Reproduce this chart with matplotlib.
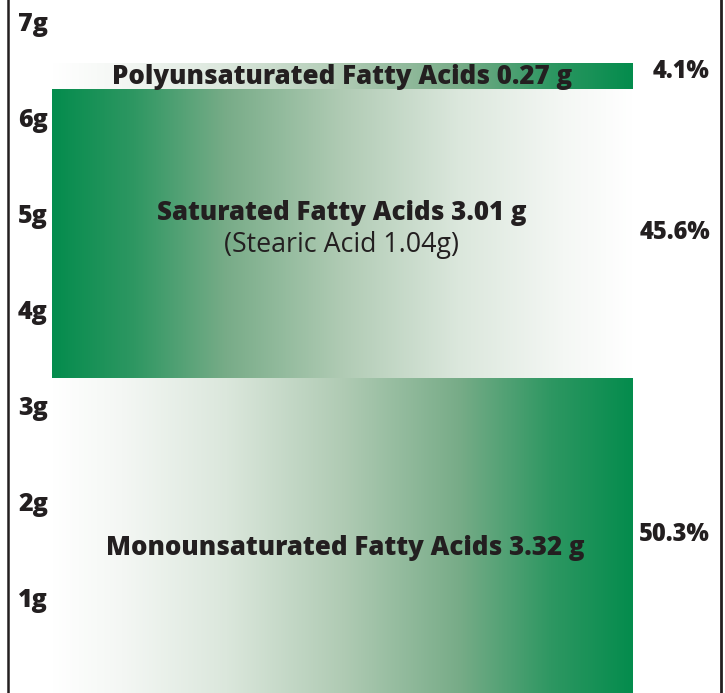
import numpy as np
import matplotlib.pyplot as plt
from matplotlib.colors import LinearSegmentedColormap

# fatty acid breakdown (grams), stacked bottom to top
names = ['Monounsaturated Fatty Acids', 'Saturated Fatty Acids', 'Polyunsaturated Fatty Acids']
grams = [3.32, 3.01, 0.27]
percents = ['50.3%', '45.6%', '4.1%']
sub_note = '(Stearic Acid 1.04g)'
y_ticks = [1, 2, 3, 4, 5, 6, 7]

plt.rcParams['font.family'] = ['Open Sans', 'DejaVu Sans']
ink = '#231f20'

fig = plt.figure(figsize=(7.25, 6.93), dpi=100)
ax = fig.add_axes([0, 0, 1, 1])
ax.axis('off')

# white -> muted grey green -> strong green
fade = LinearSegmentedColormap.from_list('fade', [
    (0.0, '#ffffff'), (0.12, '#f4f7f4'), (0.3, '#dbe7dc'), (0.5, '#b0cbb4'),
    (0.7, '#78ac88'), (0.86, '#2e9762'), (1.0, '#048c4d')])

left, right = 52, 633
grad = np.linspace(0, 1, 256).reshape(1, -1)
directions = [1, -1, 1]  # mono fades in to the right, sat fades out, poly fades in

bottom = 0
for n, g, d in zip(names, grams, directions):
    bar = ax.bar((left + right) / 2, g, width=right - left, bottom=bottom,
                 color='none', edgecolor='none')[0]
    img = ax.imshow(grad[:, ::d], cmap=fade, aspect='auto',
                    extent=[left, right, bottom, bottom + g], zorder=1)
    img.set_clip_path(bar)
    bottom += g

ax.set_ylim(0.04, 7.26)
ax.set_xlim(0, 725)

fs = 18.6
ax.text(342, 6.46, f'{names[2]} {grams[2]} g', ha='center', va='center',
        fontsize=fs, fontweight='heavy', color=ink, zorder=3)
ax.text(342, 5.04, f'{names[1]} {grams[1]:.2f} g', ha='center', va='center',
        fontsize=fs, fontweight='heavy', color=ink, zorder=3)
ax.text(342, 4.71, sub_note, ha='center', va='center',
        fontsize=19.3, color=ink, zorder=3)
ax.text(345, 1.55, f'{names[0]} {grams[0]} g', ha='center', va='center',
        fontsize=fs, fontweight='heavy', color=ink, zorder=3)

for p, y in zip(percents, [1.69, 4.84, 6.51]):
    ax.text(710, y, p, ha='right', va='center', fontsize=17,
            fontweight='heavy', color=ink)

for v in y_ticks:
    ax.text(18, v, f'{v}g', ha='left', va='center', fontsize=18,
            fontweight='heavy', color=ink)

ax.axvline(8.5, color=ink, lw=1.8)
ax.axvline(721, color=ink, lw=2)

fig.savefig('out.png', dpi=100)
